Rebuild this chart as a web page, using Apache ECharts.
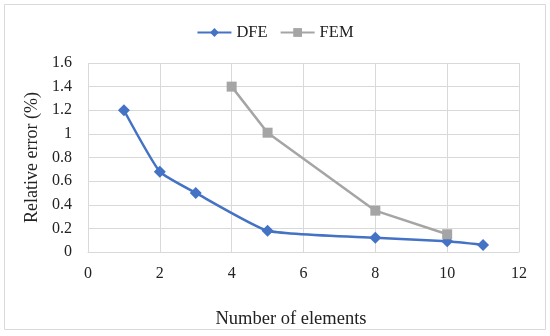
<!DOCTYPE html>
<html><head><meta charset="utf-8">
<script src="https://cdn.jsdelivr.net/npm/echarts@6/dist/echarts.min.js"></script>
<style>html,body{margin:0;padding:0;background:#fff}#c{width:550px;height:336px}</style>
</head><body><div id="c"></div>
<script>
const dfeX = [1, 2, 3, 5, 8, 10, 11];
const dfeY = [1.2, 0.68, 0.5, 0.18, 0.12, 0.09, 0.06];
const femX = [4, 5, 8, 10];
const femY = [1.4, 1.01, 0.35, 0.15];
const seriesNames = ['DFE', 'FEM'];
const xTitle = 'Number of elements';
const yTitle = 'Relative error (%)';

const font = 'Liberation Serif';
const chart = echarts.init(document.getElementById('c'));
chart.setOption({
  animation: false,
  textStyle: {fontFamily: font},
  graphic: [{type: 'rect', shape: {x: 4.5, y: 4.5, width: 541, height: 325}, style: {fill: 'none', stroke: '#d9d9d9', lineWidth: 1}}],
  legend: {
    top: 19, left: 'center', itemWidth: 34, itemHeight: 11, itemGap: 12,
    textStyle: {fontFamily: font, fontSize: 16.5, color: '#222'},
    data: seriesNames
  },
  grid: {left: 88, right: 31, top: 63, bottom: 84},
  xAxis: {
    type: 'value', min: 0, max: 12, interval: 2,
    name: xTitle, nameLocation: 'middle', nameGap: 58,
    nameTextStyle: {fontFamily: font, fontSize: 18.5, color: '#222', padding: [0, 25, 0, 0]},
    axisLine: {show: true, lineStyle: {color: '#d9d9d9'}},
    axisTick: {show: false},
    axisLabel: {fontFamily: font, fontSize: 16, color: '#222', margin: 14},
    splitLine: {show: true, lineStyle: {color: '#d9d9d9'}}
  },
  yAxis: {
    type: 'value', min: 0, max: 1.6, interval: 0.2,
    name: yTitle, nameLocation: 'middle', nameGap: 45,
    nameTextStyle: {fontFamily: font, fontSize: 18, color: '#222'},
    axisLine: {show: false},
    axisTick: {show: false},
    axisLabel: {fontFamily: font, fontSize: 16, color: '#222', margin: 16,
      formatter: v => String(parseFloat(v.toFixed(1)))},
    splitLine: {show: true, lineStyle: {color: '#d9d9d9'}}
  },
  series: [
    {name: seriesNames[0], type: 'line', smooth: 0.15,
     data: dfeX.map((x, i) => [x, dfeY[i]]),
     symbol: 'diamond', symbolSize: 12,
     lineStyle: {color: '#4472C4', width: 2.5},
     itemStyle: {color: '#4472C4'}},
    {name: seriesNames[1], type: 'line', smooth: false,
     data: femX.map((x, i) => [x, femY[i]]),
     symbol: 'rect', symbolSize: 10,
     lineStyle: {color: '#A5A5A5', width: 2.5},
     itemStyle: {color: '#A5A5A5'}}
  ]
});
</script></body></html>
